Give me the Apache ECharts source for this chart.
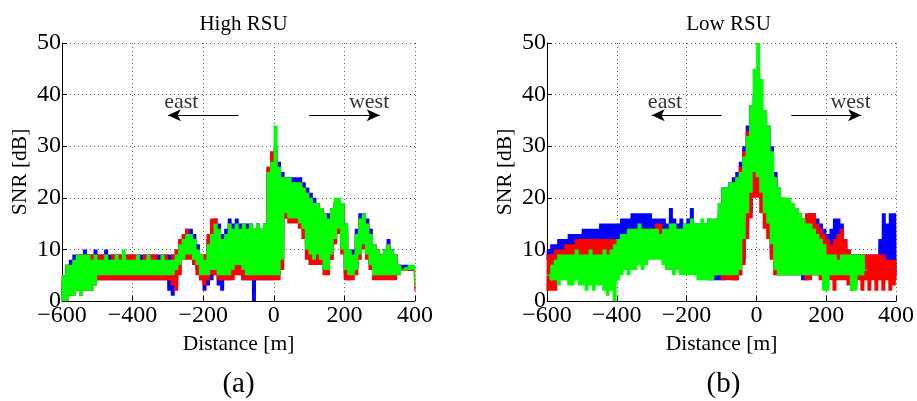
<!DOCTYPE html>
<html><head><meta charset="utf-8">
<script src="https://cdn.jsdelivr.net/npm/echarts@6/dist/echarts.min.js"></script>
<style>html,body{margin:0;padding:0;background:#fff}#c{width:917px;height:401px}</style>
</head><body><div id="c"></div>
<script>
// distance grid: -600 .. 400 m in 10 m steps (101 samples); each sample holds the
// upper (hi) and lower (lo) SNR excursion for that 10 m bin.
const distStart = -600, distStep = 10;
const titles = ['High RSU', 'Low RSU'];
const panelLabels = ['(a)', '(b)'];
const xTicks = [-600, -400, -200, 0, 200, 400];
const yTicks = [0, 10, 20, 30, 40, 50];

// ---------- High RSU ----------
const blueHi_H = [5,7,8,9,9,9,10,9,9,10, 9,9,10,9,9,9,9,9,9,9, 9,9,9,9,9,9,9,9,9,9,
  9,9,10,12,13,14,14,13,11,9, 9,12,15,16,15,13,14,16,15,16, 15,15,15,15,14,15,14,15,26,28,
  30,27,25,24,24,24,24,24,23,22, 21,20,19,18,17,17,18,19,19,19, 15,10,10,14,17,17,16,14,11,10,
  9,10,12,10,9,7,7,7,6,6, 6];
const blueLo_H = [0,1,1,2,2,2,2,3,3,4, 4,4,4,4,4,4,4,4,4,4, 4,4,4,4,4,4,4,4,4,4,
  2,1,4,7,8,9,9,8,6,4, 2,3,4,5,3,2,4,4,5,6, 5,4,4,4,0,4,4,4,4,4,
  5,5,6,16,16,16,16,15,14,10, 8,7,8,7,6,6,8,11,13,10, 5,4,5,6,9,11,9,7,5,5,
  5,5,5,5,5,6,6,6,6,6, 6];
const redHi_H = [5,7,7,8,9,9,9,9,9,9, 9,9,9,8,9,9,9,9,9,9, 9,9,8,9,9,9,9,8,9,9,
  8,9,10,12,13,14,13,11,10,8, 9,13,16,16,14,12,13,15,14,14, 14,15,14,14,14,14,14,15,26,29,
  29,25,24,24,23,23,23,23,22,21, 20,19,18,18,17,16,18,19,19,18, 14,9,9,13,16,16,15,13,11,10,
  9,10,11,10,9,7,6,6,6,6, 6];
const redLo_H = [1,0,1,1,2,1,2,2,2,3, 4,4,4,4,4,4,4,4,4,4, 4,4,4,4,4,4,4,4,4,4,
  4,3,2,5,8,8,8,7,5,4, 3,4,5,5,4,4,4,4,4,5, 5,4,4,4,4,4,4,4,4,4,
  4,4,6,16,15,15,15,14,12,8, 7,7,7,7,5,5,8,11,13,9, 4,4,4,5,8,10,8,6,4,4,
  4,4,4,4,4,5,6,6,6,6, 2];
const greenHi_H = [5,7,7,8,9,9,9,9,8,9, 8,8,9,8,8,9,8,10,8,8, 8,9,8,8,9,8,8,8,9,8,
  8,8,9,11,12,13,13,12,10,9, 8,11,13,15,14,12,13,15,14,15, 14,15,14,15,14,15,14,15,25,27,
  34,26,24,24,24,23,23,23,22,21, 20,19,19,18,17,16,18,20,20,19, 15,10,9,13,16,17,15,13,11,10,
  9,10,11,10,9,7,6,6.5,7,7, 7];
const greenLo_H = [0,0,1,1,2,1,2,2,2,3, 5,5,5,5,5,5,5,5,5,5, 5,5,5,5,5,5,5,5,5,5,
  5,5,6,7,8,9,9,8,7,5, 5,5,6,6,5,5,5,5,6,7, 7,6,5,5,5,5,5,5,5,5,
  5,5,8,17,16,16,16,15,14,10, 9,8,9,8,6,6,9,12,14,10, 6,5,5,6,9,11,9,7,5,5,
  5,5,5,5,5,5,6,6,6,6, 3];

// ---------- Low RSU ----------
const blueHi_L = [10,11,11,12,12,12,13,13,13,13, 14,14,14,14,14,15,15,15,15,15, 15,16,16,16,17,17,17,17,17,17,
  16,16,16,16,15,18,16,15,16,15, 16,18,15,15,15,15,16,15,16,19, 22,22,23,24,25,27,30,34,38,40,
  38,37,36,34,30,25,22,20,19,19, 18,18,17,16,16,17,17,16,15,14, 13,14,16,16,15,12,10,9,9,9,
  9,9,9,9,9,12,17,15,17,17, 13];
const blueLo_L = [8,8,9,9,9,9,10,10,10,10, 10,10,11,11,11,11,11,12,12,12, 12,12,12,13,13,13,13,12,12,12,
  11,11,10,10,10,10,9,9,9,9, 8,8,7,6,6,5,4,4,4,4, 4,5,5,4,4,5,8,14,17,21,
  23,20,17,14,9,6,5,5,5,5, 5,5,5,4,4,5,5,5,5,5, 5,5,6,7,6,5,5,5,5,5,
  5,5,5,5,5,5,6,5,5,5, 5];
const redHi_L = [9,9,10,10,10,11,11,11,12,12, 12,12,12,12,12,12,12,12,12,12, 12,13,13,13,13,14,14,14,14,14,
  14,15,15,14,14,14,15,14,14,14, 15,14,13,14,13,13,14,15,15,17, 21,21,22,23,24,26,29,33,36,38,
  37,36,35,32,28,24,21,20,20,19, 18,17,16,16,17,17,17,15,14,13, 12,11,12,13,14,12,10,9,9,9,
  9,9,9,9,9,9,9,8,8,8, 8];
const redLo_L = [2,2,2,4,5,5,6,6,6,6, 6,6,6,6,6,6,6,6,7,7, 8,8,8,9,9,9,9,10,10,10,
  10,10,10,10,10,10,10,10,10,10, 9,8,6,6,6,5,5,5,5,5, 4,4,4,4,4,5,7,12,16,20,
  20,17,14,12,8,5,5,5,5,5, 5,5,5,5,4,4,5,5,4,4, 4,4,2,4,4,4,3,2,3,4,
  2,4,2,4,2,4,2,4,2,3, 4];
const greenHi_L = [5,7,8,9,9,9,9,9,10,9, 9,9,10,9,9,9,10,9,10,11, 12,13,13,14,14,14,15,14,14,14,
  14,14,13,14,14,15,15,14,14,15, 15,16,15,15,16,15,16,16,16,19, 22,22,23,23,24,25,28,32,38,45,
  50,43,37,34,29,24,22,20,20,20, 19,18,17,16,15,15,14,13,12,11, 9,9,9,8,9,9,9,9,9,9,
  9,6,null,null,null,null,null,null,null,null, null];
const greenLo_L = [5,4,4,3,4,4,3,3,4,3, 3,2,3,2,3,3,2,1,2,0, 4,5,6,5,6,6,7,6,7,8,
  8,8,8,7,6,6,5,6,5,5, 5,5,5,4,4,4,4,4,5,5, 5,5,5,5,5,6,12,17,21,25,
  24,21,17,15,11,6,5,5,5,5, 5,5,5,5,5,5,5,5,5,2, 2,5,5,5,5,5,5,2,2,5,
  5,6,null,null,null,null,null,null,null,null, null];

// arrow / annotation positions in data units (distance, SNR)
const arrowEast = [[-100, 36], [-300, 36]];
const arrowWest = [[100, 36], [300, 36]];
const textEast = [-262, 38.6];
const textWest = [270, 38.6];

function band(hi, lo) {
  const pts = [];
  const sub = 8, h = distStep / sub;
  for (let i = 0; i < hi.length; i++) {
    const d = distStart + i * distStep;
    if (hi[i] == null || lo[i] == null) { pts.push([d, '-']); continue; }
    if (i === hi.length - 1) { pts.push([d, lo[i]]); break; }
    for (let s = 0; s < sub; s++) pts.push([d + s * h, s % 2 ? hi[i] : lo[i]]);
  }
  return pts;
}

const FONT = 'Liberation Serif';
const panels = [
  {left: 62, b: [blueHi_H, blueLo_H], r: [redHi_H, redLo_H], g: [greenHi_H, greenLo_H]},
  {left: 547, b: [blueHi_L, blueLo_L], r: [redHi_L, redLo_L], g: [greenHi_L, greenLo_L]}
];
const grids = [], xAxes = [], yAxes = [], series = [], titleOpts = [], graphics = [];
panels.forEach((p, k) => {
  grids.push({left: p.left, top: 43, width: 353, height: 258, containLabel: false});
  xAxes.push({
    type: 'value', gridIndex: k, min: xTicks[0], max: xTicks[xTicks.length - 1], interval: 200,
    name: 'Distance [m]', nameLocation: 'middle', nameGap: 26,
    nameTextStyle: {fontFamily: FONT, fontSize: 21.5, color: '#000'},
    axisLine: {onZero: false, lineStyle: {color: '#000', width: 1}},
    axisTick: {inside: true, length: 5, lineStyle: {color: '#000'}},
    axisLabel: {fontFamily: FONT, fontSize: 24, color: '#000', margin: 3,
      formatter: v => String(v).replace('-', '\u2212')},
    splitLine: {show: true, lineStyle: {color: '#666', type: [1, 3], width: 1}}
  });
  yAxes.push({
    type: 'value', gridIndex: k, min: yTicks[0], max: yTicks[yTicks.length - 1], interval: 10,
    name: 'SNR [dB]', nameLocation: 'middle', nameGap: 31,
    nameTextStyle: {fontFamily: FONT, fontSize: 21.5, color: '#000'},
    axisLine: {show: true, onZero: false, lineStyle: {color: '#000', width: 1}},
    axisTick: {show: true, inside: true, length: 5, lineStyle: {color: '#000'}},
    axisLabel: {fontFamily: FONT, fontSize: 24, color: '#000', margin: 1},
    splitLine: {show: true, lineStyle: {color: '#666', type: [1, 3], width: 1}}
  });
  [['#0000ff', p.b], ['#ff0000', p.r], ['#00ff00', p.g]].forEach(([col, hl]) => {
    series.push({type: 'line', xAxisIndex: k, yAxisIndex: k, data: band(hl[0], hl[1]),
      showSymbol: false, symbol: 'none', connectNulls: false, silent: true,
      lineStyle: {color: col, width: 1.3}, itemStyle: {color: col}});
  });
  series.push({
    type: 'line', xAxisIndex: k, yAxisIndex: k, data: [], silent: true,
    markLine: {
      silent: true, symbol: ['none', 'arrow'], symbolSize: [9, 13], label: {show: false},
      lineStyle: {color: '#000', width: 1.2, type: 'solid'},
      data: [
        [{coord: arrowEast[0]}, {coord: arrowEast[1]}],
        [{coord: arrowWest[0]}, {coord: arrowWest[1]}]
      ]
    }
  });
  series.push({
    type: 'scatter', xAxisIndex: k, yAxisIndex: k, symbolSize: 0, silent: true,
    label: {show: true, position: 'inside', fontFamily: FONT, fontSize: 22, color: '#000',
      formatter: q => q.data.name},
    data: [{name: 'east', value: textEast}, {name: 'west', value: textWest}]
  });
  titleOpts.push({text: titles[k], left: p.left + 176.5, top: 9, textAlign: 'center',
    textStyle: {fontFamily: FONT, fontSize: 21, fontWeight: 'normal', color: '#000'}});
  graphics.push({type: 'text', x: p.left + 176.5, y: 384,
    style: {text: panelLabels[k], fontFamily: FONT, fontSize: 29, fill: '#000',
      textAlign: 'center', textVerticalAlign: 'middle'}});
});

const chart = echarts.init(document.getElementById('c'), null, {renderer: 'canvas'});
chart.setOption({
  animation: false, backgroundColor: '#fff',
  title: titleOpts, grid: grids, xAxis: xAxes, yAxis: yAxes, series: series, graphic: graphics
});
</script></body></html>
